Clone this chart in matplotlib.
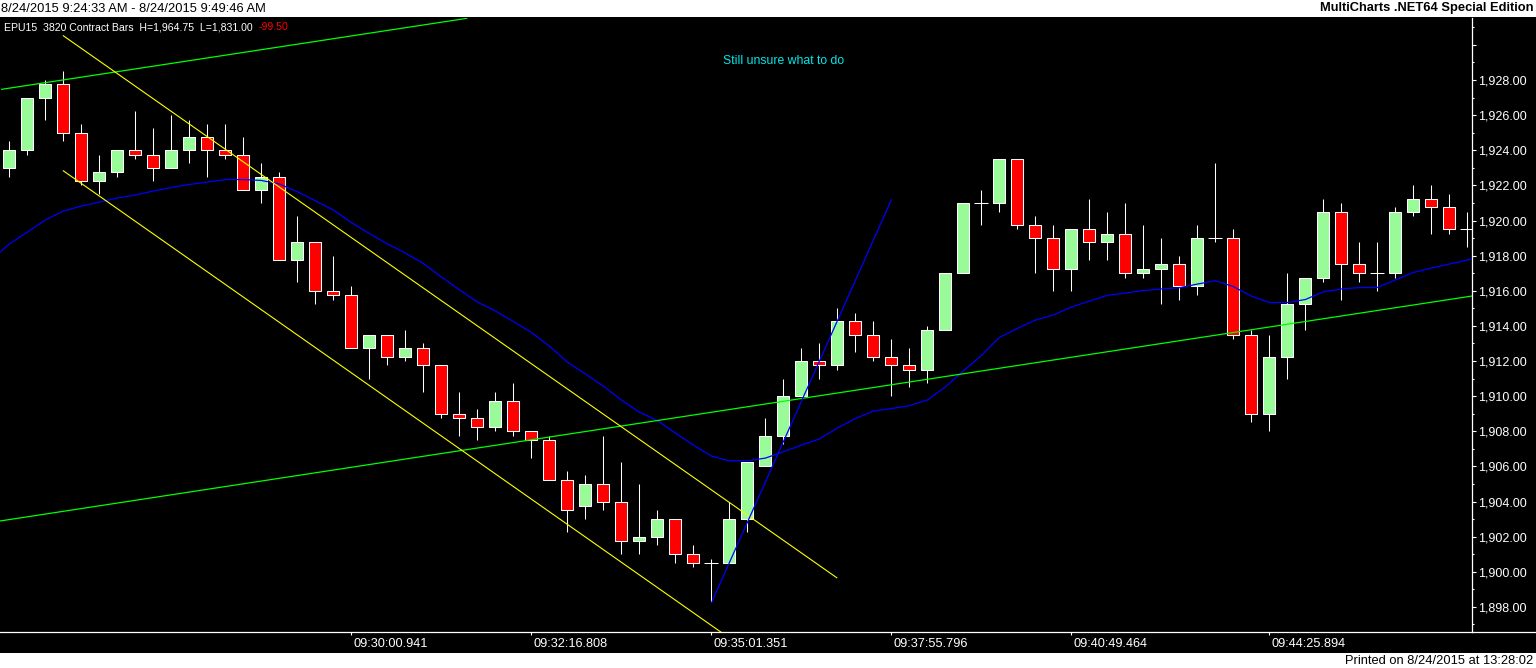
import matplotlib
matplotlib.use("Agg")
import matplotlib.pyplot as plt
from matplotlib.patches import Rectangle
from matplotlib.lines import Line2D
from matplotlib.ticker import MultipleLocator, FuncFormatter
import matplotlib.transforms as mtransforms
import numpy as np

plt.rcParams['font.family'] = ['Liberation Sans', 'DejaVu Sans']

# ---------------- data ----------------
opens = [1923, 1924, 1927, 1927.75, 1925, 1922.25, 1922.75, 1924, 1923.75, 1923,
         1924, 1924.75, 1924, 1923.75, 1921.75, 1922.5, 1917.75, 1918.75, 1916, 1915.75,
         1912.75, 1913.5, 1912.25, 1912.75, 1911.75, 1909, 1908.75, 1908.25, 1909.75, 1908,
         1907.5, 1905.25, 1903.75, 1905, 1904, 1901.75, 1902, 1903, 1901, 1900.5,
         1900.5, 1903, 1906, 1907.75, 1910, 1912, 1911.75, 1914.25, 1913.5, 1912.25,
         1911.75, 1911.5, 1913.75, 1917, 1921, 1921, 1923.5, 1919.75, 1919, 1917.25,
         1919.5, 1918.75, 1919.25, 1917, 1917.25, 1917.5, 1916.25, 1919, 1919, 1913.5,
         1909, 1912.25, 1915.25, 1916.75, 1920.5, 1917.5, 1917, 1917, 1920.5, 1921.25,
         1920.75, 1919.5]
highs = [1924.5, 1927, 1928, 1928.5, 1925.5, 1923.75, 1924, 1926.25, 1925.25, 1926,
         1925.75, 1925.5, 1925.5, 1924.75, 1923.25, 1922.75, 1920.25, 1918.75, 1918, 1916.25,
         1913.5, 1913.5, 1913.75, 1913, 1911.75, 1910.25, 1909.25, 1910.25, 1910.75, 1908,
         1907.75, 1905.75, 1905.5, 1907.75, 1906.25, 1905, 1903.5, 1903, 1901.5, 1900.75,
         1904, 1906.25, 1908.75, 1911, 1912.75, 1913, 1915, 1914.75, 1914.25, 1913.25,
         1912.75, 1914, 1917, 1921, 1921.75, 1923.5, 1923.5, 1920.25, 1919.75, 1919.5,
         1921.25, 1920.5, 1921, 1919.75, 1919, 1918, 1919.75, 1923.25, 1919.5, 1913.75,
         1913.5, 1917, 1916.75, 1921.25, 1921, 1918.75, 1918.75, 1920.75, 1922, 1922,
         1921.5, 1920.5]
lows = [1922.5, 1923.75, 1925.75, 1924.5, 1922, 1921.5, 1922.5, 1923.5, 1922.25, 1923,
        1923.25, 1922.5, 1923.5, 1921.75, 1921, 1917.75, 1916.5, 1915.25, 1915.5, 1912.75,
        1911, 1911.75, 1912, 1910.25, 1908.75, 1907.75, 1907.5, 1908, 1907.75, 1906.5,
        1905.25, 1902.25, 1903, 1903.5, 1901, 1901, 1901.5, 1900.5, 1900.25, 1898.25,
        1900.5, 1902.25, 1906, 1907.25, 1910, 1911, 1911.5, 1912.5, 1912, 1910,
        1910.5, 1910.75, 1913.75, 1917, 1919.75, 1920.5, 1919.5, 1917, 1916, 1916,
        1917.75, 1917.75, 1916.75, 1916.75, 1915.25, 1915.5, 1915.75, 1918.75, 1913.25, 1908.5,
        1908, 1911, 1913.75, 1916.5, 1915.5, 1916.5, 1916, 1916.75, 1920.25, 1919.25,
        1919.25, 1918.5]
closes = [1924, 1927, 1927.75, 1925, 1922.25, 1922.75, 1924, 1923.75, 1923, 1924,
          1924.75, 1924, 1923.75, 1921.75, 1922.5, 1917.75, 1918.75, 1916, 1915.75, 1912.75,
          1913.5, 1912.25, 1912.75, 1911.75, 1909, 1908.75, 1908.25, 1909.75, 1908, 1907.5,
          1905.25, 1903.5, 1905, 1904, 1901.75, 1902, 1903, 1901, 1900.5, 1900.5,
          1903, 1906.25, 1907.75, 1910, 1912, 1911.75, 1914.25, 1913.5, 1912.25, 1911.75,
          1911.5, 1913.75, 1917, 1921, 1921, 1923.5, 1919.75, 1919, 1917.25, 1919.5,
          1918.75, 1919.25, 1917, 1917.25, 1917.5, 1916.25, 1919, 1919, 1913.5, 1909,
          1912.25, 1915.25, 1916.75, 1920.5, 1917.5, 1917, 1917, 1920.5, 1921.25, 1920.75,
          1919.5, 1919.5]
moving_avg = [1918.66, 1919.34, 1920.03, 1920.54, 1920.82, 1921.05, 1921.28, 1921.45, 1921.68, 1921.88,
              1922.05, 1922.19, 1922.33, 1922.33, 1922.28, 1922.08, 1921.64, 1921.12, 1920.60, 1919.88,
              1919.26, 1918.67, 1918.15, 1917.55, 1916.79, 1916.06, 1915.36, 1914.85, 1914.25, 1913.63,
              1912.85, 1911.94, 1911.27, 1910.57, 1909.78, 1909.09, 1908.61, 1907.90, 1907.21, 1906.59,
              1906.32, 1906.32, 1906.47, 1906.83, 1907.21, 1907.56, 1908.18, 1908.72, 1909.15, 1909.29,
              1909.46, 1909.78, 1910.52, 1911.43, 1912.31, 1913.34, 1913.85, 1914.33, 1914.62, 1915.07,
              1915.41, 1915.74, 1915.87, 1916.01, 1916.10, 1916.17, 1916.38, 1916.57, 1916.24, 1915.70,
              1915.33, 1915.33, 1915.50, 1915.94, 1916.10, 1916.18, 1916.19, 1916.61, 1917.04, 1917.29,
              1917.52, 1917.75]
# moving average where it meets the left and right edges of the plot
moving_avg_left_edge = 1918.2
moving_avg_right_edge = 1917.82

# drawn trend lines: (bar index, price) end points
green_upper_x = [-0.42, 25.41]
green_upper_y = [1927.47, 1931.51]
green_lower_x = [-0.52, 81.26]
green_lower_y = [1902.89, 1915.70]
yellow_upper_x = [3.0, 45.97]
yellow_upper_y = [1930.52, 1899.66]
yellow_lower_x = [3.0, 40.5]
yellow_lower_y = [1922.83, 1895.87]
blue_trend_x = [39.02, 49.0]
blue_trend_y = [1898.26, 1921.17]

xtick_pos = [19, 29, 39, 49, 59, 70]
xtick_labels = ["09:30:00.941", "09:32:16.808", "09:35:01.351",
                "09:37:55.796", "09:40:49.464", "09:44:25.894"]

header_left = "8/24/2015 9:24:33 AM - 8/24/2015 9:49:46 AM"
header_right = "MultiCharts .NET64 Special Edition"
info_text = "EPU15  3820 Contract Bars  H=1,964.75  L=1,831.00"
info_change = "-99.50"
note_text = "Still unsure what to do"
note_pos = (43.0, 1929.08)
footer_text = "Printed on 8/24/2015 at 13:28:02"

# ---------------- figure ----------------
W, H = 1536, 668
fig = plt.figure(figsize=(W / 100, H / 100), dpi=100, facecolor='black')

plot_top_px, plot_bot_px, plot_right_px = 18, 632, 1472
ax = fig.add_axes([0, (H - plot_bot_px) / H, plot_right_px / W,
                   (plot_bot_px - plot_top_px) / H])
ax.set_facecolor('black')

XMIN, XMAX = -0.517, 81.26
x = np.arange(len(opens))
o = np.array(opens); c = np.array(closes); hi = np.array(highs); lo = np.array(lows)

# wicks
ax.vlines(x, lo, hi, color='white', linewidth=0.75, zorder=2)
# bodies
body_w = 0.68
up = c > o
dn = c < o
ax.bar(x[up], (c - o)[up], bottom=o[up], width=body_w, color='#98FB98',
       edgecolor='white', linewidth=0.75, zorder=3)
ax.bar(x[dn], (o - c)[dn], bottom=c[dn], width=body_w, color='#FF0000',
       edgecolor='white', linewidth=0.75, zorder=3)
dj = c == o
ax.hlines(c[dj], x[dj] - body_w / 2 - 0.05, x[dj] + body_w / 2 + 0.05,
          color='white', linewidth=0.75, zorder=3)

# overlays
ma_x = np.concatenate([[XMIN], x, [XMAX]])
ma_y = np.concatenate([[moving_avg_left_edge], moving_avg, [moving_avg_right_edge]])
ax.plot(ma_x, ma_y, color='#0000FF', linewidth=0.9, zorder=4)
ax.plot(green_upper_x, green_upper_y, color='#00FF00', linewidth=0.9, zorder=4)
ax.plot(green_lower_x, green_lower_y, color='#00FF00', linewidth=0.9, zorder=4)
ax.plot(yellow_upper_x, yellow_upper_y, color='#FFFF00', linewidth=0.8, zorder=4)
ax.plot(yellow_lower_x, yellow_lower_y, color='#FFFF00', linewidth=0.8, zorder=4)
ax.plot(blue_trend_x, blue_trend_y, color='#0000FF', linewidth=0.9, zorder=4)

ax.text(note_pos[0], note_pos[1], note_text, color='#00E8E8', fontsize=8.8,
        ha='center', va='center', zorder=5)

# axes limits
ax.set_xlim(XMIN, XMAX)
ax.set_ylim(1896.57, 1931.53)

# spines
for s in ['left', 'top']:
    ax.spines[s].set_visible(False)
ax.spines['right'].set_color('white')
ax.spines['bottom'].set_color('white')
ax.spines['right'].set_linewidth(0.9)
ax.spines['bottom'].set_linewidth(0.9)

# y axis
ax.yaxis.tick_right()
ax.yaxis.set_major_locator(MultipleLocator(2))
ax.yaxis.set_minor_locator(MultipleLocator(1))
ax.yaxis.set_major_formatter(FuncFormatter(lambda v, p: f"{v:,.2f}" if v <= 1928.01 else ""))
ax.tick_params(axis='y', which='major', colors='white', length=3, width=0.8,
               labelsize=9, pad=1.5, direction='out')
ax.tick_params(axis='y', which='minor', colors='white', length=1.7, width=0.8,
               direction='out')

# x axis
ax.set_xticks(xtick_pos)
ax.set_xticklabels(xtick_labels)
ax.tick_params(axis='x', colors='white', length=2.3, width=0.8, labelsize=9.2,
               pad=2, direction='out')
offset = mtransforms.ScaledTranslation(2 / 100, 0, fig.dpi_scale_trans)
for lbl in ax.get_xticklabels():
    lbl.set_horizontalalignment('left')
    lbl.set_transform(lbl.get_transform() + offset)

# extend bottom axis line to right edge
yb = (H - plot_bot_px) / H
fig.add_artist(Line2D([plot_right_px / W, 1], [yb, yb], transform=fig.transFigure,
                      color='white', linewidth=0.9))

# header and footer bars
fig.add_artist(Rectangle((0, (H - 17) / H), 1, 17 / H, transform=fig.transFigure,
                         facecolor='white', edgecolor='none'))
fig.add_artist(Rectangle((0, 0), 1, 15 / H, transform=fig.transFigure,
                         facecolor='white', edgecolor='none'))
fig.text(1 / W, (H - 8.5) / H, header_left, color='black', fontsize=9.3,
         ha='left', va='center')
fig.text(1533 / W, (H - 8.5) / H, header_right, color='black', fontsize=9.3,
         fontweight='bold', ha='right', va='center')
fig.text(1533 / W, 7 / H, footer_text, color='black', fontsize=9.3,
         ha='right', va='center')

fig.text(4 / W, (H - 27) / H, info_text, color='white', fontsize=7.6,
         ha='left', va='center')
fig.text(259 / W, (H - 27) / H, info_change, color='#FF0000', fontsize=7.6,
         ha='left', va='center')

fig.savefig('out.png', dpi=100, facecolor='black')
